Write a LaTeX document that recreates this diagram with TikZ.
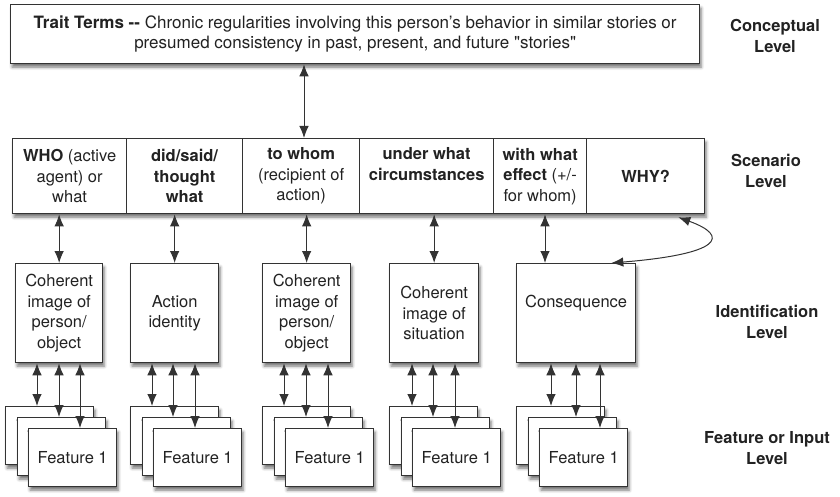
\documentclass[tikz,border=0pt]{standalone}
\usepackage{fontspec}
\setmainfont{TeX Gyre Heros}
\usetikzlibrary{arrows.meta,shadows.blur}
\definecolor{edge}{HTML}{333333}
\definecolor{txt}{HTML}{222222}

\begin{document}
\begin{tikzpicture}[x=1pt,y=-1pt,
  every node/.style={font=\fontsize{16.5}{20.5}\selectfont, text=txt},
  box/.style={draw=edge, line width=1.3pt, fill=white, inner sep=0pt,
    anchor=north west, align=center},
  shade/.style={blur shadow={shadow xshift=1.5pt, shadow yshift=-3.5pt,
    shadow blur radius=3pt, shadow opacity=55}},
  feat/.style={box, shade, minimum width=88pt, minimum height=58pt},
  idbox/.style={box, shade, minimum height=99pt},
  cell/.style={box, minimum height=75pt},
  dbl/.style={{Latex[length=12pt,width=9.5pt]}-{Latex[length=12pt,width=9.5pt]},
    line width=1pt, draw=edge},
  level/.style={font=\bfseries\fontsize{16.5}{20.5}\selectfont, align=center}
]
\useasboundingbox (0,0) rectangle (840,497);

% conceptual level
\node[box, shade, minimum width=689pt, minimum height=59pt,
  font=\fontsize{17}{20}\selectfont] (trait) at (10,4)
  {\textbf{Trait Terms -{}-} Chronic regularities involving this person's behavior in similar stories or\\
   presumed consistency in past, present, and future \textquotedbl stories\textquotedbl};

% scenario level
\node[box, shade, minimum width=692pt, minimum height=75pt] (row) at (12,138) {};
\node[cell, minimum width=114pt] (c1) at (12,138)
  {\textbf{WHO} (active\\agent) or\\what};
\node[cell, minimum width=116pt] (c2) at (126,138)
  {\textbf{did/said/}\\\textbf{thought}\\\textbf{what}};
\node[cell, minimum width=117pt] (c3) at (242,138)
  {\textbf{to whom}\\(recipient of\\action)};
\node[cell, minimum width=134pt] (c4) at (359,138)
  {\textbf{under what}\\\textbf{circumstances}\\\phantom{Ag}};
\node[cell, minimum width=93pt] (c5) at (493,138)
  {\textbf{with what}\\\textbf{effect} (+/-\\for whom)};
\node[cell, minimum width=118pt] (c6) at (586,138) {\textbf{WHY?}};

% identification level
\node[idbox, minimum width=87pt] (id1) at (15,263) {Coherent\\image of\\person/\\object};
\node[idbox, minimum width=88pt] (id2) at (130,263) {Action\\identity};
\node[idbox, minimum width=88pt] (id3) at (262,263) {Coherent\\image of\\person/\\object};
\node[idbox, minimum width=89pt] (id4) at (389,263) {Coherent\\image of\\situation};
\node[idbox, minimum width=119pt] (id5) at (516,263) {Consequence\\\phantom{Ag}};

% feature stacks: back, middle and front sheet
\foreach \n/\L in {1/5, 2/130, 3/262, 4/389, 5/516} {
  \node[feat] (f\n a) at (\L,406) {};
  \node[feat] (f\n b) at (\L+12,417) {};
  \node[feat] (f\n c) at (\L+23,428) {Feature 1};
}

% level labels
\node[level] (lc) at (775,36) {Conceptual\\Level};
\node[level] (ls) at (766,171) {Scenario\\Level};
\node[level] (li) at (767,322) {Identification\\Level};
\node[level] (lf) at (767,448) {Feature or Input\\Level};

% connectors
\draw[dbl] (trait.south -| 304,0) -- (c3.north -| 304,0);
\draw[dbl] (c1.south -| id1.north) -- (id1.north);
\draw[dbl] (c2.south -| id2.north) -- (id2.north);
\draw[dbl] (c3.south -| id3.north) -- (id3.north);
\draw[dbl] (c4.south -| id4.north) -- (id4.north);
\draw[dbl] (c5.south -| 545,0) -- (id5.north -| 545,0);
\draw[dbl] ([xshift=-27pt,yshift=-3pt]c6.south east)
  .. controls (730,236) and (722,254) .. ([xshift=-25pt]id5.north east);

\foreach \n/\a/\b/\c in {1/37/59/80, 2/152/173/195, 3/284/306/328,
                         4/412/433/455, 5/551/576/600} {
  \draw[dbl] (id\n.south -| \a,0) -- (f\n a.north -| \a,0);
  \draw[dbl] (id\n.south -| \b,0) -- (f\n b.north -| \b,0);
  \draw[dbl] (id\n.south -| \c,0) -- (f\n c.north -| \c,0);
}
\end{tikzpicture}
\end{document}
